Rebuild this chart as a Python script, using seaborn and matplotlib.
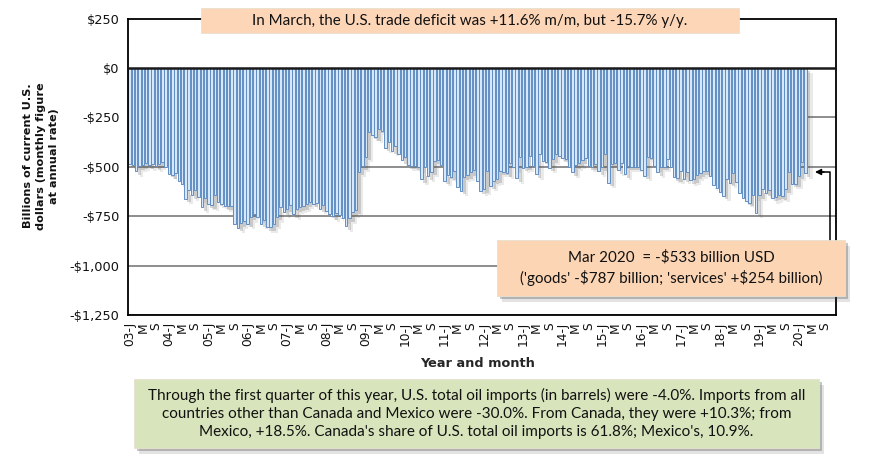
import matplotlib
matplotlib.use("Agg")
import matplotlib.pyplot as plt
import matplotlib.patheffects as pe
import seaborn as sns
from matplotlib.lines import Line2D
from matplotlib.patches import Rectangle
from matplotlib.transforms import Affine2D

W, H = 870, 458

balance_2003_07 = [
    -485, -490, -524, -498, -493, -482, -493, -485, -498, -488, -475, -502,
    -535, -544, -532, -573, -586, -662, -620, -645, -616, -653, -704, -657,
    -690, -695, -645, -679, -687, -699, -699, -699, -788, -808, -785, -776,
    -788, -754, -741, -754, -788, -768, -805, -805, -788, -754, -704, -729,
    -712, -695, -741, -712, -706, -700, -688, -676, -688, -685, -713, -693,
]
balance_2008_12 = [
    -725, -740, -750, -735, -745, -760, -800, -760, -730, -720, -525, -497,
    -450, -324, -340, -352, -310, -319, -403, -374, -420, -394, -433, -466,
    -453, -492, -495, -497, -503, -564, -500, -547, -525, -471, -466, -492,
    -570, -542, -550, -520, -600, -622, -550, -542, -528, -517, -570, -621,
    -614, -520, -597, -570, -564, -522, -525, -534, -483, -503, -559, -453,
]
balance_2013_17 = [
    -505, -500, -445, -497, -537, -438, -471, -475, -505, -461, -433, -445,
    -458, -461, -500, -529, -492, -483, -466, -458, -497, -500, -486, -522,
    -503, -436, -580, -486, -483, -517, -483, -539, -497, -500, -500, -500,
    -517, -546, -449, -458, -497, -529, -500, -500, -461, -500, -554, -559,
    -522, -560, -525, -568, -563, -542, -534, -522, -522, -547, -593, -610,
]
balance_2018_20 = [
    -627, -647, -563, -580, -534, -576, -632, -656, -675, -683, -644, -732,
    -644, -615, -632, -619, -658, -653, -644, -649, -615, -525, -585, -585,
    -546, -478, -533,
]
balance = balance_2003_07 + balance_2008_12 + balance_2013_17 + balance_2018_20

years = [f"{y:02d}" for y in range(3, 21)]
y_ticks = [250, 0, -250, -500, -750, -1000, -1250]
y_tick_labels = [r"\$250", r"\$0", r"-\$250", r"-\$500", r"-\$750", r"-\$1,000", r"-\$1,250"]

top_note = "In March, the U.S. trade deficit was +11.6% m/m, but -15.7% y/y."
mid_note = "Mar 2020  = -\\$533 billion USD\n('goods' -\\$787 billion; 'services' +\\$254 billion)"
bottom_note = (
    "Through the first quarter of this year, U.S. total oil imports (in barrels) were -4.0%. Imports from all\n"
    "countries other than Canada and Mexico were -30.0%. From Canada, they were +10.3%; from\n"
    "Mexico, +18.5%. Canada's share of U.S. total oil imports is 61.8%; Mexico's, 10.9%."
)

sns.set_theme(style="white", rc={"axes.edgecolor": "black", "axes.linewidth": 1.3})

fig = plt.figure(figsize=(W / 100, H / 100), dpi=100)
ax = fig.add_axes([128 / W, (H - 315) / H, 708.5 / W, 296.5 / H])

for tick in y_ticks[2:]:
    ax.axhline(tick, color="#7a7a7a", linewidth=1.2, zorder=0)

months = list(range(len(balance)))

# white backing bars carry the drop shadow, so only the outline of the block casts one
sns.barplot(x=months, y=balance, width=1.0, color="white", saturation=1, linewidth=0, ax=ax, zorder=1)
for bar in ax.patches:
    bar.set_path_effects(
        [
            pe.SimplePatchShadow(offset=(4, -4), alpha=0.12, shadow_rgbFace="#555555"),
            pe.SimplePatchShadow(offset=(2.5, -2.5), alpha=0.22, shadow_rgbFace="#555555"),
            pe.Normal(),
        ]
    )

sns.barplot(
    x=months,
    y=balance,
    width=0.76,
    color="#d8e8fb",
    saturation=1,
    edgecolor="#5f8cc2",
    linewidth=0.68,
    ax=ax,
    zorder=2,
)

ax.axhline(0, color="#1a1a1a", linewidth=1.8, zorder=3)
ax.set_xlim(-0.5, 215.5)
ax.set_ylim(-1250, 250)
ax.set_yticks(y_ticks)
ax.set_yticklabels(y_tick_labels, fontsize=9.3, color="#111111")

tick_pos = list(range(0, 216, 4))
tick_labels = []
for yr in years:
    tick_labels += [f"{yr}-J", "M", "S"]
ax.set_xticks(tick_pos)
ax.set_xticklabels(tick_labels, rotation=90, fontsize=8.8, color="#111111")
ax.tick_params(axis="both", length=0, pad=6)
ax.tick_params(axis="x", pad=5)

ax.set_xlabel("Year and month", fontsize=9.3, fontweight="bold", labelpad=0)
ax.xaxis.set_label_coords((478 - 128) / 708.5, (315 - 357) / 296.5)
ax.set_ylabel("")

# everything outside the axes is placed in image pixels
px = Affine2D().scale(1, -1).translate(0, H)

fig.text(
    41 / W, 1 - 156 / H,
    "Billions of current U.S.\ndollars (monthly figure\nat annual rate)",
    rotation=90, ha="center", va="center", multialignment="center",
    fontsize=8.1, fontweight="bold", linespacing=1.35, color="#111111",
)


def note(x0, y0, x1, y1, text, color, size, spacing, shadow=True):
    box = Rectangle(
        (x0, y0), x1 - x0, y1 - y0, transform=px, facecolor=color,
        edgecolor="#e8e0d0", linewidth=0.6, zorder=5,
    )
    if shadow:
        box.set_path_effects(
            [
                pe.SimplePatchShadow(offset=(3.5, -4), alpha=0.15, shadow_rgbFace="#444444"),
                pe.SimplePatchShadow(offset=(2, -2.5), alpha=0.3, shadow_rgbFace="#444444"),
                pe.Normal(),
            ]
        )
    fig.add_artist(box)
    fig.text(
        (x0 + x1) / 2 / W, 1 - (y0 + y1) / 2 / H, text, ha="center", va="center",
        fontsize=size, family="Lato", color="#111111", linespacing=spacing, zorder=6,
    )


# arrow from the Mar 2020 note up to the last bar
fig.add_artist(Line2D([830, 830, 820], [242, 172, 172], transform=px, color="black", linewidth=1.1))
ax.annotate(
    "", xy=(815, 172), xytext=(824, 172), xycoords=px, textcoords=px,
    arrowprops=dict(arrowstyle="-|>", color="black", linewidth=1, mutation_scale=9, shrinkA=0, shrinkB=0),
)

note(201, 8, 739, 33, top_note, "#fdd6b8", 10.9, 1.25, shadow=False)
note(497, 240, 845, 296, mid_note, "#fcd5b5", 10.9, 1.4)
note(134, 379, 819, 448, bottom_note, "#d8e4bc", 11.0, 1.35)

fig.savefig("out.png", dpi=100)
